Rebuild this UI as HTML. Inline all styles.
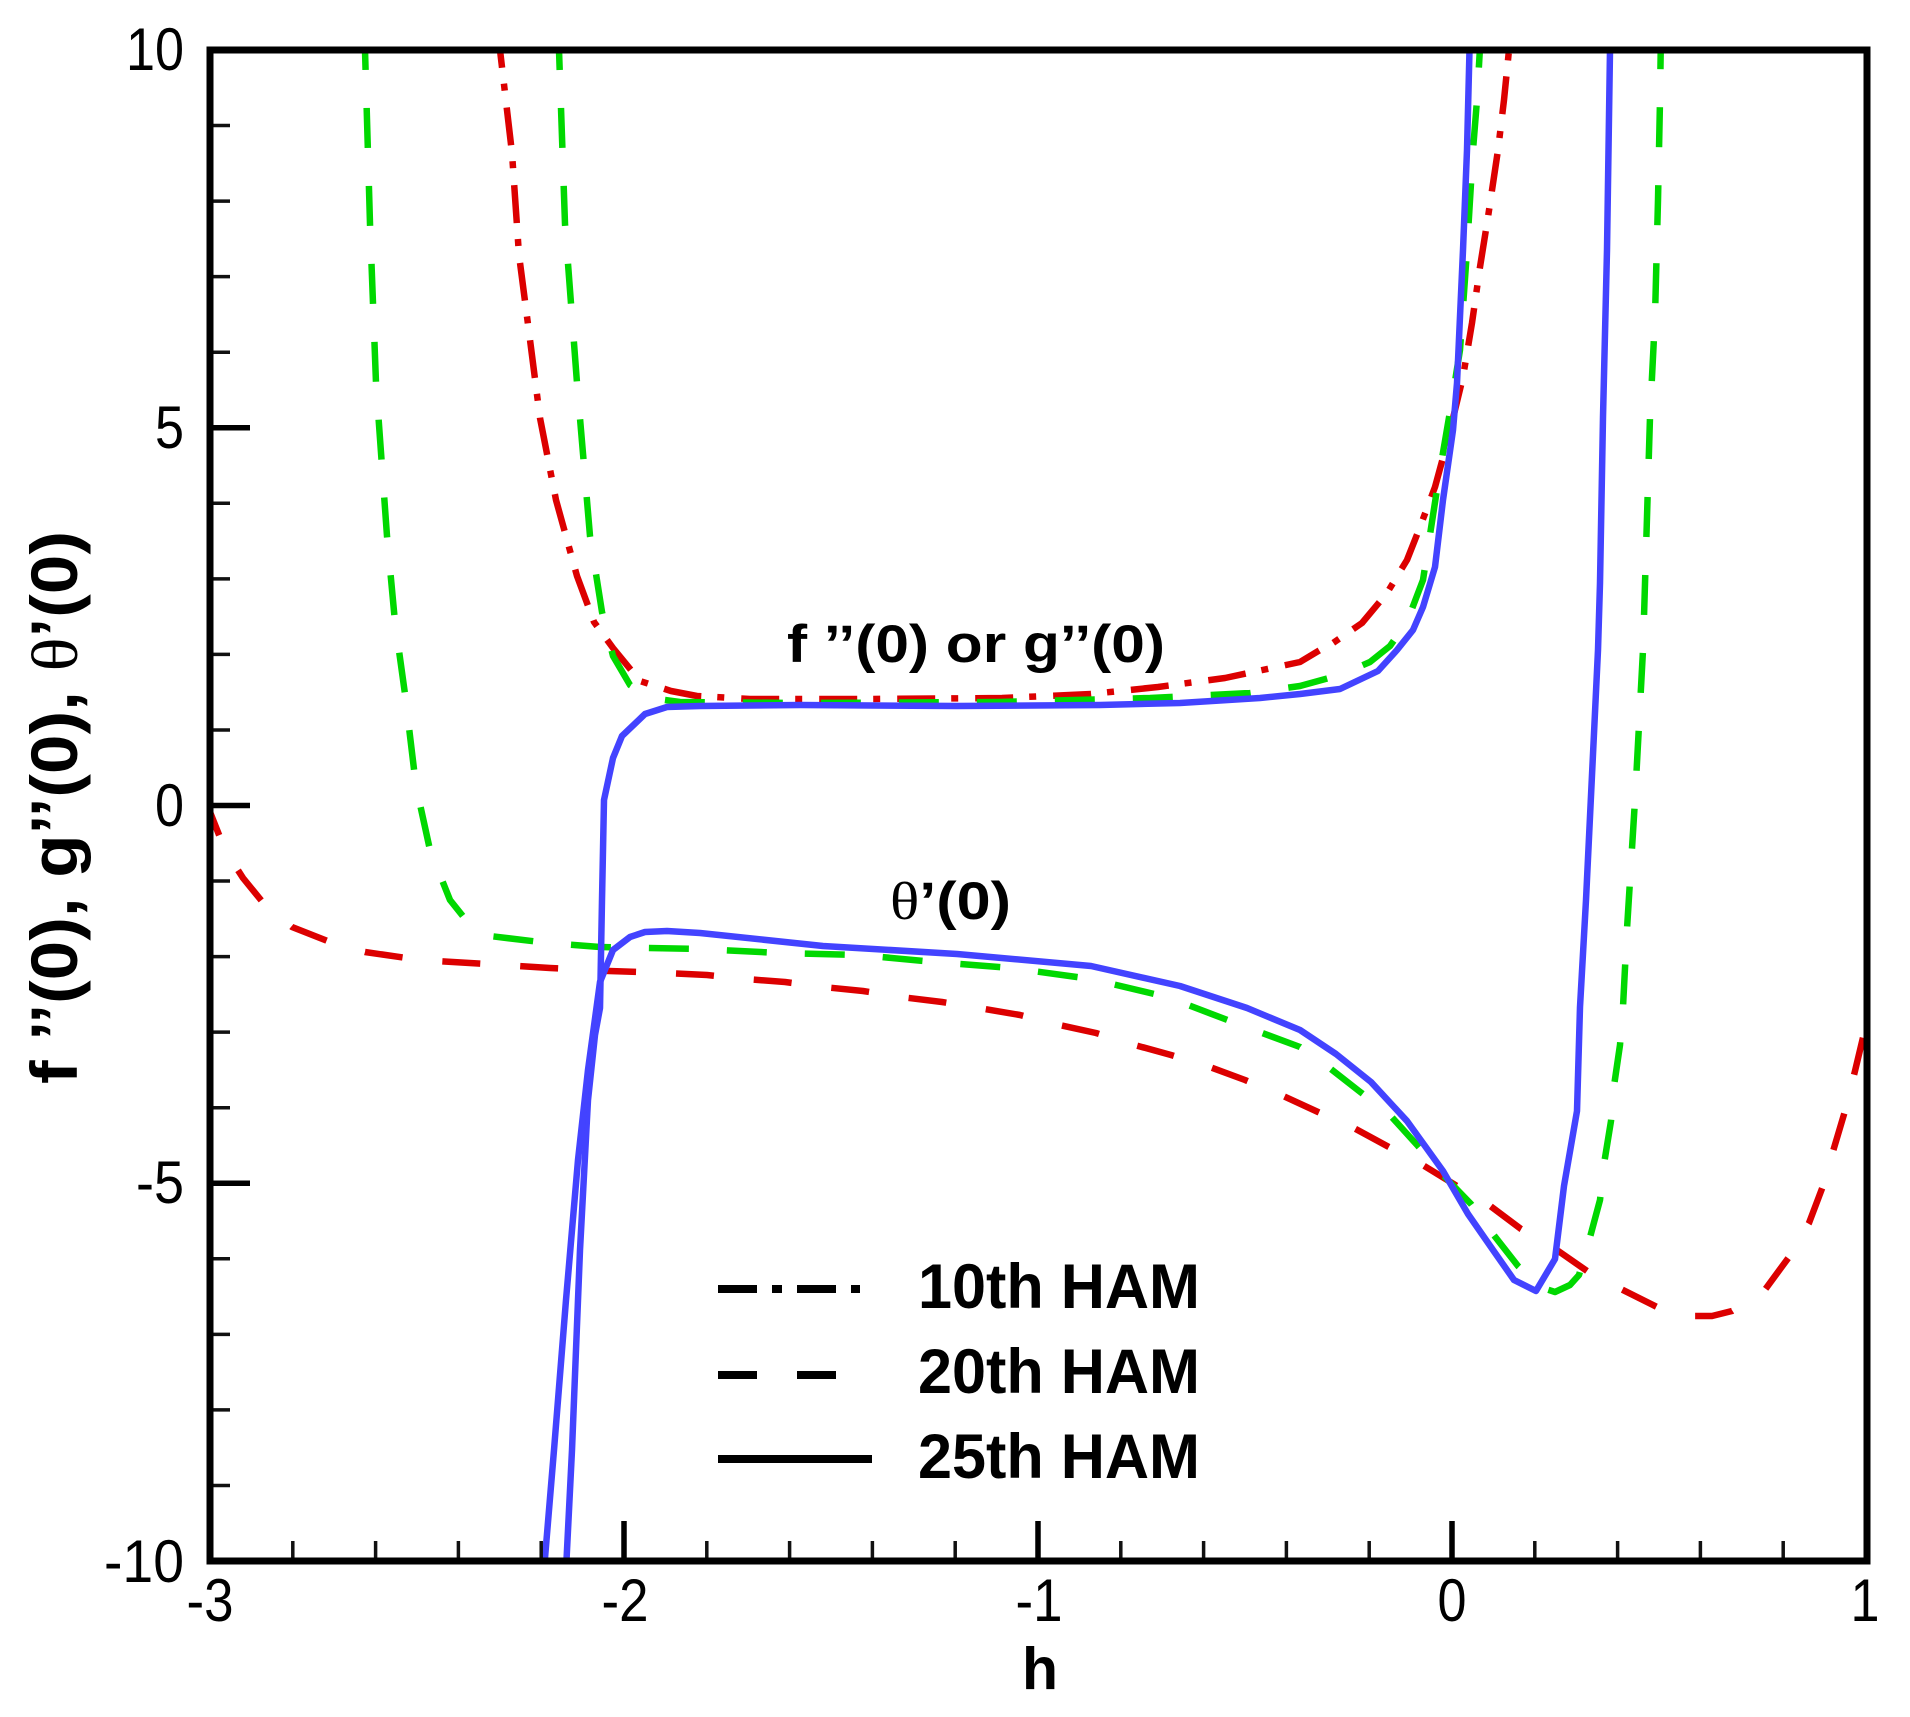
<!DOCTYPE html>
<html>
<head>
<meta charset="utf-8">
<style>
  html, body { margin:0; padding:0; background:#ffffff; }
  body { width:1910px; height:1717px; overflow:hidden; }
  svg { display:block; }
  .tk { font-family:"Liberation Sans", Arial, sans-serif; font-size:60px; fill:#000; }
  .bd { font-family:"Liberation Sans", Arial, sans-serif; font-weight:bold; fill:#000; }
</style>
</head>
<body>
<svg width="1910" height="1717" viewBox="0 0 1910 1717" xmlns="http://www.w3.org/2000/svg">
  <rect x="0" y="0" width="1910" height="1717" fill="#ffffff"/>
  <defs>
    <clipPath id="plot"><rect x="210" y="50" width="1657" height="1511"/></clipPath>
  </defs>

  <g clip-path="url(#plot)" fill="none" stroke-linejoin="round" stroke-linecap="butt">
    <!-- red dash-dot f''(0) -->
    <polyline stroke="#dc0000" stroke-width="6.5" stroke-dasharray="38 16 7 17"
      points="498,30 500,50 512,153 519,255 529,332 540,418 556,500 577,576 594,622 613,648 640,681 671,691 697,696 750,699 868,699 1002,698 1091,694 1158,687 1225,678 1300,662 1320,650 1333,643 1362,623 1387,593 1407,560 1420,527 1435,487 1447,443 1463,377 1472,323 1480,267 1488,217 1498,150 1504,100 1511,30"/>
    <!-- red dashed theta'(0) -->
    <polyline stroke="#dc0000" stroke-width="6.5" stroke-dasharray="38 40"
      points="205,800 210,812 225,850 243,878 265,905 292,927 330,942 365,952 420,960 487,964 550,968 609,971 667,973 707,975 745,979 785,982 823,987 863,991 901,997 942,1002 979,1008 1020,1015 1055,1024 1096,1033 1131,1044 1171,1055 1207,1066 1245,1080 1281,1095 1318,1112 1352,1127 1387,1146 1421,1164 1457,1186 1489,1205 1521,1229 1554,1248 1587,1271 1621,1289 1657,1307 1693,1316 1712,1316 1732,1311 1764,1291 1789,1257 1809,1223 1823,1186 1834,1148 1845,1111 1855,1071 1866,1025 1872,1000"/>
    <!-- green dashed f''(0) -->
    <polyline stroke="#00d800" stroke-width="6.5" stroke-dasharray="40 38"
      points="558,30 559,50 565,224 577,383 590,536 602,612 613,656 630,685 650,698 680,702 800,703 1000,702 1150,698 1250,693 1300,686 1340,675 1370,662 1390,646 1407,622 1423,580 1440,470 1452,400 1460,350 1467,250 1473,150 1477,100 1481,30"/>
    <!-- green dashed theta'(0) -->
    <polyline stroke="#00d800" stroke-width="6.5" stroke-dasharray="40 38"
      points="364,30 365,50 370,224 376,383 387,536 395,622 405,694 416,786 430,850 450,900 470,925 490,936 548,943 600,947 700,949 780,953 860,955 935,962 1011,968 1091,979 1167,997 1238,1024 1300,1047 1327,1066 1359,1091 1389,1114 1418,1146 1443,1175 1471,1204 1493,1234 1518,1266 1540,1287 1555,1292 1570,1285 1579,1275 1589,1241 1600,1200 1604,1164 1611,1121 1614,1086 1620,1045 1623,1007 1627,929 1635,800 1643,650 1647,517 1650,417 1655,317 1658,200 1660,100 1661,30"/>
    <!-- blue solid f''(0) -->
    <polyline stroke="#4343ff" stroke-width="6.5"
      points="566,1570 572,1450 580,1250 588,1100 595,1035 600,1008 602,900 604,800 613,758 622,736 645,714 667,707 700,706 800,705 957,706 1100,705 1180,703 1260,698 1300,694 1340,689 1378,671 1397,650 1413,630 1423,607 1435,567 1443,500 1453,430 1457,383 1463,250 1467,150 1470,30"/>
    <!-- blue solid theta'(0) -->
    <polyline stroke="#4343ff" stroke-width="6.5"
      points="544,1570 554,1450 566,1300 578,1160 588,1070 600,982 613,950 630,937 645,932 667,931 700,933 823,946 957,954 1091,966 1180,986 1247,1008 1300,1030 1336,1054 1371,1082 1407,1121 1443,1171 1468,1214 1493,1250 1514,1280 1536,1291 1555,1259 1564,1186 1577,1111 1580,1007 1586,900 1598,650 1600,583 1603,417 1607,250 1610,50 1611,30"/>
  </g>

  <!-- minor ticks -->
  <path stroke="#111" stroke-width="3.5" fill="none" d="
    M292.8,1561 V1541 M375.6,1561 V1541 M458.4,1561 V1541 M541.2,1561 V1541
    M706.8,1561 V1541 M789.6,1561 V1541 M872.4,1561 V1541 M955.2,1561 V1541
    M1120.8,1561 V1541 M1203.6,1561 V1541 M1286.4,1561 V1541 M1369.2,1561 V1541
    M1534.8,1561 V1541 M1617.6,1561 V1541 M1700.4,1561 V1541 M1783.2,1561 V1541
    M210,125.55 H230 M210,201.1 H230 M210,276.65 H230 M210,352.2 H230
    M210,503.3 H230 M210,578.85 H230 M210,654.4 H230 M210,729.95 H230
    M210,881.05 H230 M210,956.6 H230 M210,1032.15 H230 M210,1107.7 H230
    M210,1258.8 H230 M210,1334.35 H230 M210,1409.9 H230 M210,1485.45 H230"/>
  <!-- major ticks -->
  <path stroke="#000" stroke-width="5.5" fill="none" d="
    M624,1561 V1521 M1038,1561 V1521 M1452,1561 V1521
    M210,427.75 H250 M210,805.5 H250 M210,1183.25 H250"/>

  <!-- frame -->
  <rect x="210" y="50" width="1657" height="1511" fill="none" stroke="#000" stroke-width="7"/>

  <!-- y tick labels -->
  <text class="tk" x="184" y="70" text-anchor="end" textLength="58" lengthAdjust="spacingAndGlyphs">10</text>
  <text class="tk" x="184" y="448" text-anchor="end" textLength="29" lengthAdjust="spacingAndGlyphs">5</text>
  <text class="tk" x="184" y="826" text-anchor="end" textLength="29" lengthAdjust="spacingAndGlyphs">0</text>
  <text class="tk" x="184" y="1203" text-anchor="end" textLength="48" lengthAdjust="spacingAndGlyphs">-5</text>
  <text class="tk" x="184" y="1582" text-anchor="end" textLength="80" lengthAdjust="spacingAndGlyphs">-10</text>

  <!-- x tick labels -->
  <text class="tk" x="210" y="1621" text-anchor="middle" textLength="47" lengthAdjust="spacingAndGlyphs">-3</text>
  <text class="tk" x="625" y="1621" text-anchor="middle" textLength="47" lengthAdjust="spacingAndGlyphs">-2</text>
  <text class="tk" x="1039" y="1621" text-anchor="middle" textLength="47" lengthAdjust="spacingAndGlyphs">-1</text>
  <text class="tk" x="1452" y="1621" text-anchor="middle" textLength="29" lengthAdjust="spacingAndGlyphs">0</text>
  <text class="tk" x="1865" y="1621" text-anchor="middle" textLength="29" lengthAdjust="spacingAndGlyphs">1</text>

  <!-- axis titles -->
  <text class="bd" x="1040" y="1689" text-anchor="middle" font-size="59">h</text>
  <text class="bd" transform="translate(77,807.5) rotate(-90)" x="0" y="0" text-anchor="middle" font-size="66" textLength="553" lengthAdjust="spacingAndGlyphs">f ’’(0), g’’(0), <tspan font-family="Liberation Serif, serif" font-weight="normal">θ</tspan>’(0)</text>

  <!-- annotations -->
  <text class="bd" x="787" y="662" font-size="53" textLength="378" lengthAdjust="spacingAndGlyphs">f ’’(0) or g’’(0)</text>
  <text class="bd" x="890" y="919" font-size="53" textLength="121" lengthAdjust="spacingAndGlyphs"><tspan font-family="Liberation Serif, serif" font-weight="normal">θ</tspan>’(0)</text>

  <!-- legend -->
  <line x1="718" y1="1289" x2="860" y2="1289" stroke="#000" stroke-width="8" stroke-dasharray="39 15 10 15"/>
  <line x1="718" y1="1375" x2="837" y2="1375" stroke="#000" stroke-width="8" stroke-dasharray="39 40"/>
  <line x1="718" y1="1459" x2="872" y2="1459" stroke="#000" stroke-width="8"/>
  <text class="bd" x="918" y="1308" font-size="63" textLength="282" lengthAdjust="spacingAndGlyphs">10th HAM</text>
  <text class="bd" x="918" y="1393" font-size="63" textLength="282" lengthAdjust="spacingAndGlyphs">20th HAM</text>
  <text class="bd" x="918" y="1478" font-size="63" textLength="282" lengthAdjust="spacingAndGlyphs">25th HAM</text>
</svg>
</body>
</html>
